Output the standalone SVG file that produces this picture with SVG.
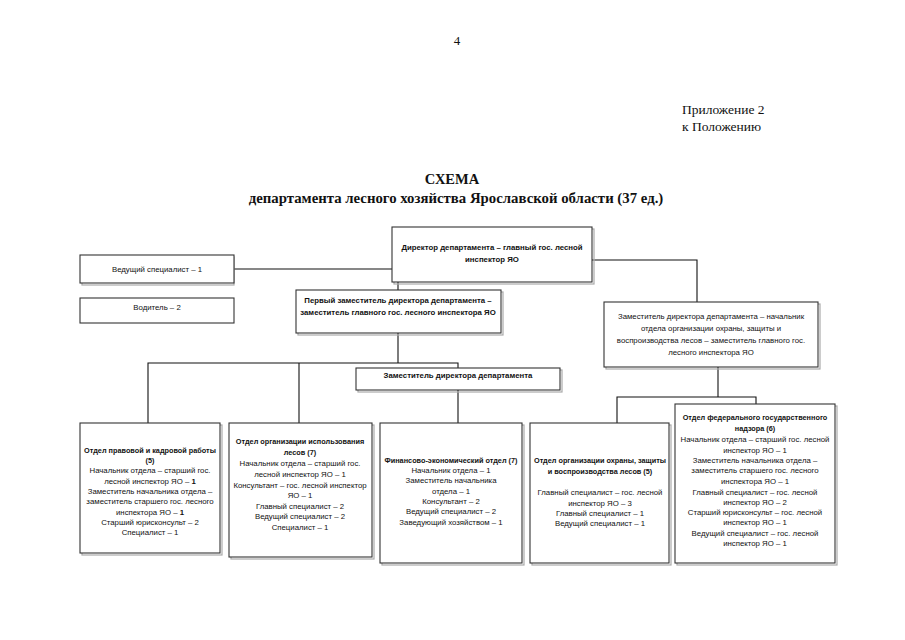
<svg xmlns="http://www.w3.org/2000/svg" width="905" height="640" viewBox="0 0 905 640">
<style>
.bx{fill:#fff;stroke:#333;stroke-width:1.1}
.sh{fill:none;stroke:#aaa;stroke-width:1.2}
.t{font-family:"Liberation Sans",Arial,sans-serif;font-size:7.8px;fill:#111;text-anchor:middle}
.b{font-weight:bold}
.tb{font-size:7.3px}
.hd{font-family:"Liberation Serif","Times New Roman",serif;fill:#111}
.ln{fill:none;stroke:#111;stroke-width:1.1}
</style>
<rect width="905" height="640" fill="#fff"/>
<text class="hd" x="457" y="45" font-size="13" text-anchor="middle">4</text>
<text class="hd" x="682" y="114" font-size="13.5">Приложение 2</text>
<text class="hd" x="682" y="131" font-size="13.5">к Положению</text>
<text class="hd" x="452" y="184" font-size="14.5" font-weight="bold" text-anchor="middle">СХЕМА</text>
<text class="hd" x="456" y="203" font-size="14.8" font-weight="bold" text-anchor="middle">департамента лесного хозяйства Ярославской области (37 ед.)</text>

<g id="connectors">
<path class="ln" d="M234 269 H392"/>
<path class="ln" d="M592 260 H697 V302"/>
<path class="ln" d="M398 282 V290"/>
<path class="ln" d="M398 333 V363"/>
<path class="ln" d="M148 423 V363 H458 V368"/>
<path class="ln" d="M299 363 V423"/>
<path class="ln" d="M458 390 V423"/>
<path class="ln" d="M718 367 V397"/>
<path class="ln" d="M617 423 V397 H756 V404"/>
</g>

<g id="director">
<rect class="sh" x="394" y="229" width="200" height="55"/>
<rect class="bx" x="392" y="227" width="200" height="55"/>
<text class="t b" x="492" y="250">Директор департамента – главный гос. лесной</text>
<text class="t b" x="492" y="262">инспектор ЯО</text>
</g>

<g id="vedushchiy">
<rect class="sh" x="82" y="257" width="152" height="28"/>
<rect class="bx" x="80" y="255" width="154" height="28"/>
<text class="t" x="157" y="272">Ведущий специалист – 1</text>
</g>

<g id="voditel">
<rect class="bx" x="80" y="298" width="154" height="25"/>
<text class="t" x="157" y="310">Водитель – 2</text>
</g>

<g id="perviy">
<rect class="sh" x="298" y="292" width="205" height="43"/>
<rect class="bx" x="296" y="290" width="205" height="43"/>
<text class="t b" x="398" y="303">Первый заместитель директора департамента  –</text>
<text class="t b" x="398" y="315">заместитель главного гос. лесного инспектора ЯО</text>
</g>

<g id="zam-ohrana">
<rect class="sh" x="606" y="304" width="214" height="65"/>
<rect class="bx" x="604" y="302" width="214" height="65"/>
<text class="t" x="711" y="319">Заместитель директора департамента – начальник</text>
<text class="t" x="711" y="331">отдела организации охраны, защиты и</text>
<text class="t" x="711" y="343">воспроизводства лесов – заместитель главного гос.</text>
<text class="t" x="711" y="355">лесного инспектора ЯО</text>
</g>

<g id="zam-dir">
<rect class="sh" x="358" y="370" width="204" height="22"/>
<rect class="bx" x="356" y="368" width="204" height="22"/>
<text class="t b" x="458" y="378">Заместитель директора департамента</text>
</g>

<g id="dept-pravo">
<rect class="sh" x="82" y="425" width="140" height="130"/>
<rect class="bx" x="80" y="423" width="140" height="130"/>
<text class="t b tb" x="150" y="453">Отдел правовой и кадровой работы</text>
<text class="t b tb" x="150" y="463">(5)</text>
<text class="t" x="150" y="473">Начальник отдела  –  старший гос.</text>
<text class="t" x="150" y="484">лесной  инспектор ЯО – <tspan class="b">1</tspan></text>
<text class="t" x="150" y="494">Заместитель начальника отдела –</text>
<text class="t" x="150" y="504">заместитель старшего гос. лесного</text>
<text class="t" x="150" y="515">инспектора ЯО – <tspan class="b">1</tspan></text>
<text class="t" x="150" y="525">Старший юрисконсульт – 2</text>
<text class="t" x="150" y="535">Специалист – 1</text>
</g>

<g id="dept-ispolz">
<rect class="sh" x="231" y="425" width="143" height="134"/>
<rect class="bx" x="229" y="423" width="143" height="134"/>
<text class="t b tb" x="300" y="444">Отдел организации использования</text>
<text class="t b tb" x="300" y="455">лесов (7)</text>
<text class="t" x="300" y="466">Начальник отдела – старший гос.</text>
<text class="t" x="300" y="477">лесной инспектор ЯО – 1</text>
<text class="t" x="300" y="488">Консультант – гос. лесной инспектор</text>
<text class="t" x="300" y="498">ЯО – 1</text>
<text class="t" x="300" y="509">Главный специалист – 2</text>
<text class="t" x="300" y="519">Ведущий специалист – 2</text>
<text class="t" x="300" y="530">Специалист – 1</text>
</g>

<g id="dept-fin">
<rect class="sh" x="382" y="425" width="142" height="140"/>
<rect class="bx" x="380" y="423" width="142" height="140"/>
<text class="t b tb" x="451" y="463">Финансово-экономический отдел (7)</text>
<text class="t" x="451" y="473">Начальник отдела – 1</text>
<text class="t" x="451" y="483">Заместитель начальника</text>
<text class="t" x="451" y="494">отдела – 1</text>
<text class="t" x="451" y="504">Консультант – 2</text>
<text class="t" x="451" y="514">Ведущий специалист – 2</text>
<text class="t" x="451" y="525">Заведующий хозяйством – 1</text>
</g>

<g id="dept-ohrana">
<rect class="sh" x="532" y="425" width="139" height="140"/>
<rect class="bx" x="530" y="423" width="139" height="140"/>
<text class="t b tb" x="600" y="463">Отдел организации охраны, защиты</text>
<text class="t b tb" x="600" y="474">и воспроизводства лесов (5)</text>
<text class="t" x="600" y="495">Главный специалист – гос. лесной</text>
<text class="t" x="600" y="506">инспектор ЯО – 3</text>
<text class="t" x="600" y="516">Главный специалист – 1</text>
<text class="t" x="600" y="526">Ведущий специалист – 1</text>
</g>

<g id="dept-nadzor">
<rect class="sh" x="677" y="406" width="160" height="159"/>
<rect class="bx" x="675" y="404" width="160" height="159"/>
<text class="t b tb" x="755" y="420">Отдел федерального государственного</text>
<text class="t b tb" x="755" y="431">надзора (6)</text>
<text class="t" x="755" y="442">Начальник отдела – старший гос. лесной</text>
<text class="t" x="755" y="453">инспектор ЯО – 1</text>
<text class="t" x="755" y="463">Заместитель начальника отдела  –</text>
<text class="t" x="755" y="473">заместитель старшего гос. лесного</text>
<text class="t" x="755" y="484">инспектора ЯО – 1</text>
<text class="t" x="755" y="495">Главный специалист – гос. лесной</text>
<text class="t" x="755" y="505">инспектор ЯО – 2</text>
<text class="t" x="755" y="515">Старший юрисконсульт – гос. лесной</text>
<text class="t" x="755" y="525">инспектор ЯО – 1</text>
<text class="t" x="755" y="536">Ведущий специалист – гос. лесной</text>
<text class="t" x="755" y="546">инспектор ЯО – 1</text>
</g>
</svg>
